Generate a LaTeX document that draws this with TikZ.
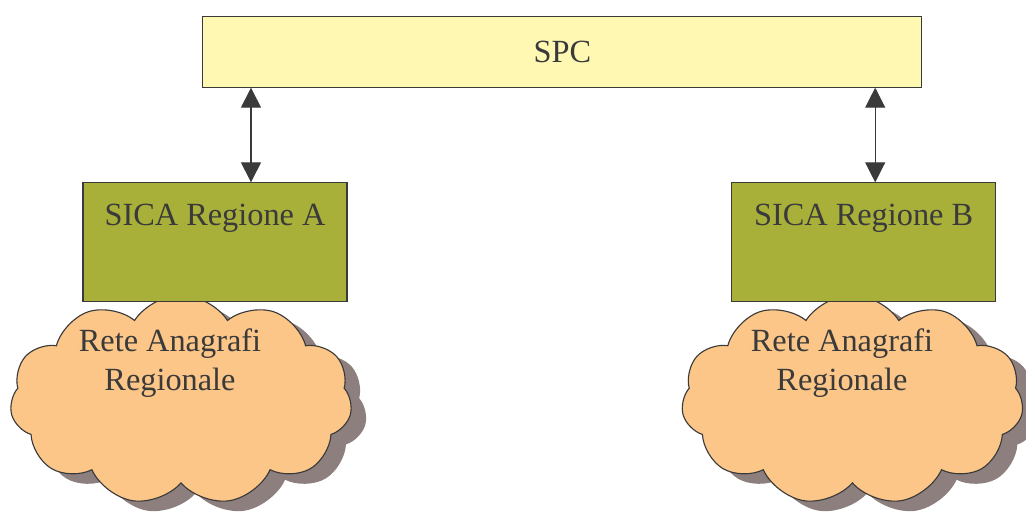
\documentclass[tikz,border=0pt]{standalone}
\usepackage{fontspec}
\setmainfont{Liberation Serif}
\usepackage{tikz}
\definecolor{spcyellow}{HTML}{FFF8B2}
\definecolor{sicagreen}{HTML}{A8B03A}
\definecolor{cloudorange}{HTML}{FBC688}
\definecolor{shadowgray}{HTML}{8C7F7E}
\definecolor{linegray}{HTML}{3A3A3A}
\usetikzlibrary{positioning, arrows.meta, shapes.symbols, shadows}

\begin{document}
\begin{tikzpicture}
                \tikzstyle{every node}=[font=\fontsize{23}{28}\selectfont, text=linegray]
                \tikzstyle{spcbox} = [rectangle, draw=linegray, thick, fill=spcyellow, minimum width=17.975cm, minimum height=1.775cm]
                \tikzstyle{sicabox} = [rectangle, draw=linegray, thick, fill=sicagreen, minimum width=6.6cm, minimum height=2.975cm]
                \tikzstyle{rete} = [cloud, cloud puffs=11, cloud puff arc=115, draw=linegray, thick, fill=cloudorange, minimum width=8.55cm, minimum height=5.25cm, drop shadow={shadow xshift=0.375cm, shadow yshift=-0.25cm, fill=shadowgray, opacity=1}]
                \tikzstyle{edge} = [{Triangle[length=0.5cm,width=0.5cm]}-{Triangle[length=0.5cm,width=0.5cm]}, thick, draw=linegray]

                \useasboundingbox (0,0) rectangle (25.65,-12.925);

                \node[spcbox](spc) at (14.06,-1.29) {SPC};

                % clouds first, boxes sit on top of them
                \node[rete](reteA) at (4.525,-10.0) {};
                \node[rete](reteB) at (21.31,-10.0) {};
                \node[align=center](textA) at (4.25,-9.08) {Rete Anagrafi\\Regionale};
                \node[align=center](textB) at (21.05,-9.08) {Rete Anagrafi\\Regionale};

                \node[sicabox, label={[anchor=north, yshift=-0.42cm]north:SICA Regione A}](sicaA) at (5.375,-6.06) {};
                \node[sicabox, label={[anchor=north, yshift=-0.42cm]north:SICA Regione B}](sicaB) at (21.59,-6.06) {};

                \draw[edge] ([xshift=0.9cm]sicaA.north |- spc.south) -- ([xshift=0.9cm]sicaA.north);
                \draw[edge] ([xshift=0.29cm]sicaB.north |- spc.south) -- ([xshift=0.29cm]sicaB.north);

\end{tikzpicture}
\end{document}
